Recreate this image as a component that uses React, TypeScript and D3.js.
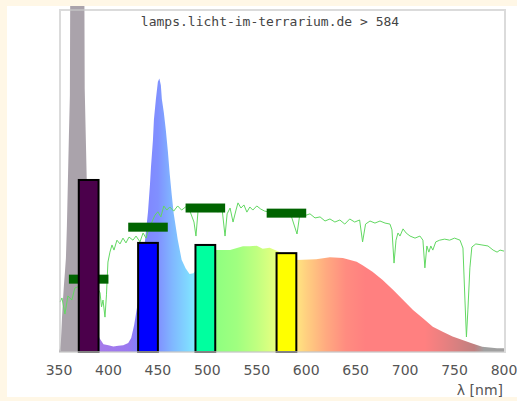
import React from 'react';
import * as d3 from 'd3';

// lamp spectrum (relative units)
const lampNm = [350, 351, 352, 353, 354, 355, 356, 357, 358, 359, 360, 361, 362, 363, 374, 375, 376, 377, 378, 380, 383, 386, 389, 391, 395, 400, 405, 410, 415, 420, 423, 426, 430, 435, 440, 442, 443, 445, 446, 448, 450, 451.5, 453, 454, 456, 458, 460, 462, 464, 466, 470, 474, 478, 482, 486, 490, 500, 509, 523, 536, 543, 550, 556, 563, 575, 590, 610, 624, 637, 651, 657, 667, 677, 688, 698, 708, 718, 728, 738, 748, 758, 768, 778, 793, 800];
const lampValue = [0.3, 1, 3.5, 9.9, 15.2, 19.6, 23.4, 27.5, 37, 50, 63, 75, 160, 200, 200, 160, 77, 64, 51, 32, 18, 10, 5.5, 4, 2.3, 2, 1.6, 1.8, 2, 2.6, 4.1, 7.9, 15, 27, 41, 49, 54, 62, 68, 74, 79, 80, 78, 74, 70, 65, 59, 52, 46, 40.5, 33, 27, 24.5, 22.8, 23, 24.5, 28, 29.8, 29.8, 30.9, 30.9, 31.1, 30.2, 30.5, 29, 26.9, 27.1, 27.7, 27.5, 26.4, 25.4, 23.5, 21.1, 18.1, 15.2, 12.3, 9.9, 7.4, 5.9, 4.5, 3.5, 2.5, 1.5, 1.1, 1.1];

// sunlight reference
const sunNm = [351, 353, 356, 359, 363, 366, 374, 380, 386, 391.5, 393, 394.5, 396.5, 398, 399.5, 401.5, 403.6, 405.6, 408.6, 411.7, 414.7, 417.7, 420.8, 424.8, 427.9, 431.9, 435, 438, 441, 444, 447, 450, 453, 456, 459, 462, 466, 470, 474, 478, 482, 486.5, 488.5, 490.5, 494.6, 498.6, 502.7, 506.7, 510.8, 514.8, 517.9, 520, 523, 526, 529, 531, 534, 537, 540, 543, 546, 550, 554, 558, 563, 573.5, 583.6, 590.7, 593.7, 598.8, 603.8, 608.9, 614, 619, 624, 629, 634, 639, 644, 649, 654, 657, 660, 664.5, 669.5, 674.6, 679.7, 684.7, 686.7, 688.8, 690.8, 692.8, 694.8, 697.9, 701, 705, 710, 715, 718, 720, 722, 724, 726, 728, 731, 735, 740, 745, 750, 755.5, 758.5, 760.5, 762, 763.5, 765.5, 767.5, 771.5, 777.7, 783.8, 789, 793, 796, 800];
const sunValue = [14.6, 15.8, 11.1, 16.4, 15.2, 18.7, 19.6, 18, 20.2, 17.3, 13.2, 15.2, 10.2, 16.7, 26.3, 29.2, 31.3, 29.8, 32.7, 31.6, 33.3, 31.9, 33.6, 32.7, 33.9, 32.2, 34.8, 33.3, 36.3, 38, 40, 41, 39.5, 42.7, 41.5, 42.4, 41.2, 42.7, 41.5, 42.4, 41.5, 38, 33.9, 40.9, 42.4, 42.1, 41.5, 42.7, 40.9, 42.1, 33.9, 40.4, 42.1, 38, 41.5, 43.6, 42.1, 43, 40.9, 42.4, 41.5, 42.7, 41.8, 41.2, 40.9, 40.4, 40.9, 34.5, 40.6, 39.9, 40.4, 39.2, 39.5, 38.3, 38.9, 38, 38.6, 37.4, 38.9, 38, 38.6, 32.2, 37.4, 38.3, 37.7, 38.3, 37.7, 37.4, 35.7, 26, 32.7, 34.8, 33.9, 36, 34.8, 33.9, 33.3, 33.9, 32.7, 24.6, 31, 29.2, 31, 29.8, 32.2, 32.7, 33, 32.7, 33.3, 32.7, 30.4, 15.2, 4.4, 12.3, 24.6, 30.7, 31.6, 31.3, 31, 29.8, 29.2, 29.8, 29.5];

// measured bands and sunlight levels
const bandCenters = [380, 440, 498, 580];
const bandValues = [50.3, 31.9, 31.3, 28.9];
const sunLevels = [21.3, 36.5, 42.1, 40.6];
const bandFills = ['#4b004b', '#0000ff', '#00ff9f', '#ffff00'];

const xTicks = [350, 400, 450, 500, 550, 600, 650, 700, 750, 800];

const gradNm = [350, 379, 381, 420, 430, 450, 465, 480, 490, 510, 530, 550, 570, 585, 600, 620, 640, 660, 720, 740, 770, 780, 800];
const gradColor = ['#aaa3ab', '#aaa3ab', '#a97be8', '#9a78f0', '#8080ff', '#8090ff', '#80b8ff', '#80d8ff', '#80f0ff', '#90ff80', '#a0ff80', '#c0ff80', '#e8ff80', '#fff080', '#ffd080', '#ffaa80', '#ff8c80', '#ff8080', '#ff8080', '#e88080', '#c08080', '#a0a0a0', '#a0a0a0'];

const W = 517;
const H = 401;

export default function App() {
  const x = d3.scaleLinear().domain([350, 800]).range([59, 504]);
  const y = d3.scaleLinear().domain([0, 100]).range([352, 10]);

  const area = d3
    .area<number>()
    .x((d, i) => x(lampNm[i]))
    .y0(y(0))
    .y1((d) => y(d));

  const line = d3
    .line<number>()
    .x((d, i) => x(sunNm[i]))
    .y((d) => y(d));

  const x0 = x(350);
  const x1 = x(800);

  return (
    <div style={{ position: 'fixed', left: 0, top: 0 }}>
      <svg width={W} height={H} style={{ display: 'block' }}>
        <defs>
          <linearGradient id="spec" gradientUnits="userSpaceOnUse" x1={x0} x2={x1} y1={0} y2={0}>
            {gradNm.map((nm, i) => (
              <stop key={i} offset={(x(nm) - x0) / (x1 - x0)} stopColor={gradColor[i]} />
            ))}
          </linearGradient>
          <clipPath id="panel">
            <rect x={7} y={6} width={510} height={391} />
          </clipPath>
        </defs>
        <rect width={W} height={H} fill="#fff7e6" />
        <rect x={7} y={6} width={510} height={391} fill="#ffffff" />
        <g clipPath="url(#panel)">
          <path d={area(lampValue) || ''} fill="url(#spec)" />
          <path d={line(sunValue) || ''} fill="none" stroke="#62d862" strokeWidth={1} />
          {bandCenters.map((c, i) => (
            <rect
              key={'s' + i}
              x={x(c - 20)}
              y={y(sunLevels[i]) - 4.5}
              width={x(c + 20) - x(c - 20)}
              height={9}
              fill="#006400"
            />
          ))}
          {bandCenters.map((c, i) => (
            <rect
              key={'b' + i}
              x={x(c - 10)}
              y={y(bandValues[i])}
              width={x(c + 10) - x(c - 10)}
              height={y(0) - y(bandValues[i])}
              fill={bandFills[i]}
              stroke="#000"
              strokeWidth={2}
            />
          ))}
        </g>
        <rect x={60} y={10} width={445} height={342} fill="none" stroke="#c8c8c8" strokeOpacity={0.65} strokeWidth={2} />
        <text x={270} y={26} textAnchor="middle" fontFamily="DejaVu Sans Mono" fontSize={13} fill="#444">
          lamps.licht-im-terrarium.de &gt; 584
        </text>
        {xTicks.map((t) => (
          <text key={t} x={x(t)} y={375} textAnchor="middle" fontFamily="DejaVu Sans" fontSize={14} fill="#555">
            {t}
          </text>
        ))}
        <text x={503} y={395} textAnchor="end" fontFamily="DejaVu Sans" fontSize={14} fill="#555">
          λ [nm]
        </text>
      </svg>
    </div>
  );
}
